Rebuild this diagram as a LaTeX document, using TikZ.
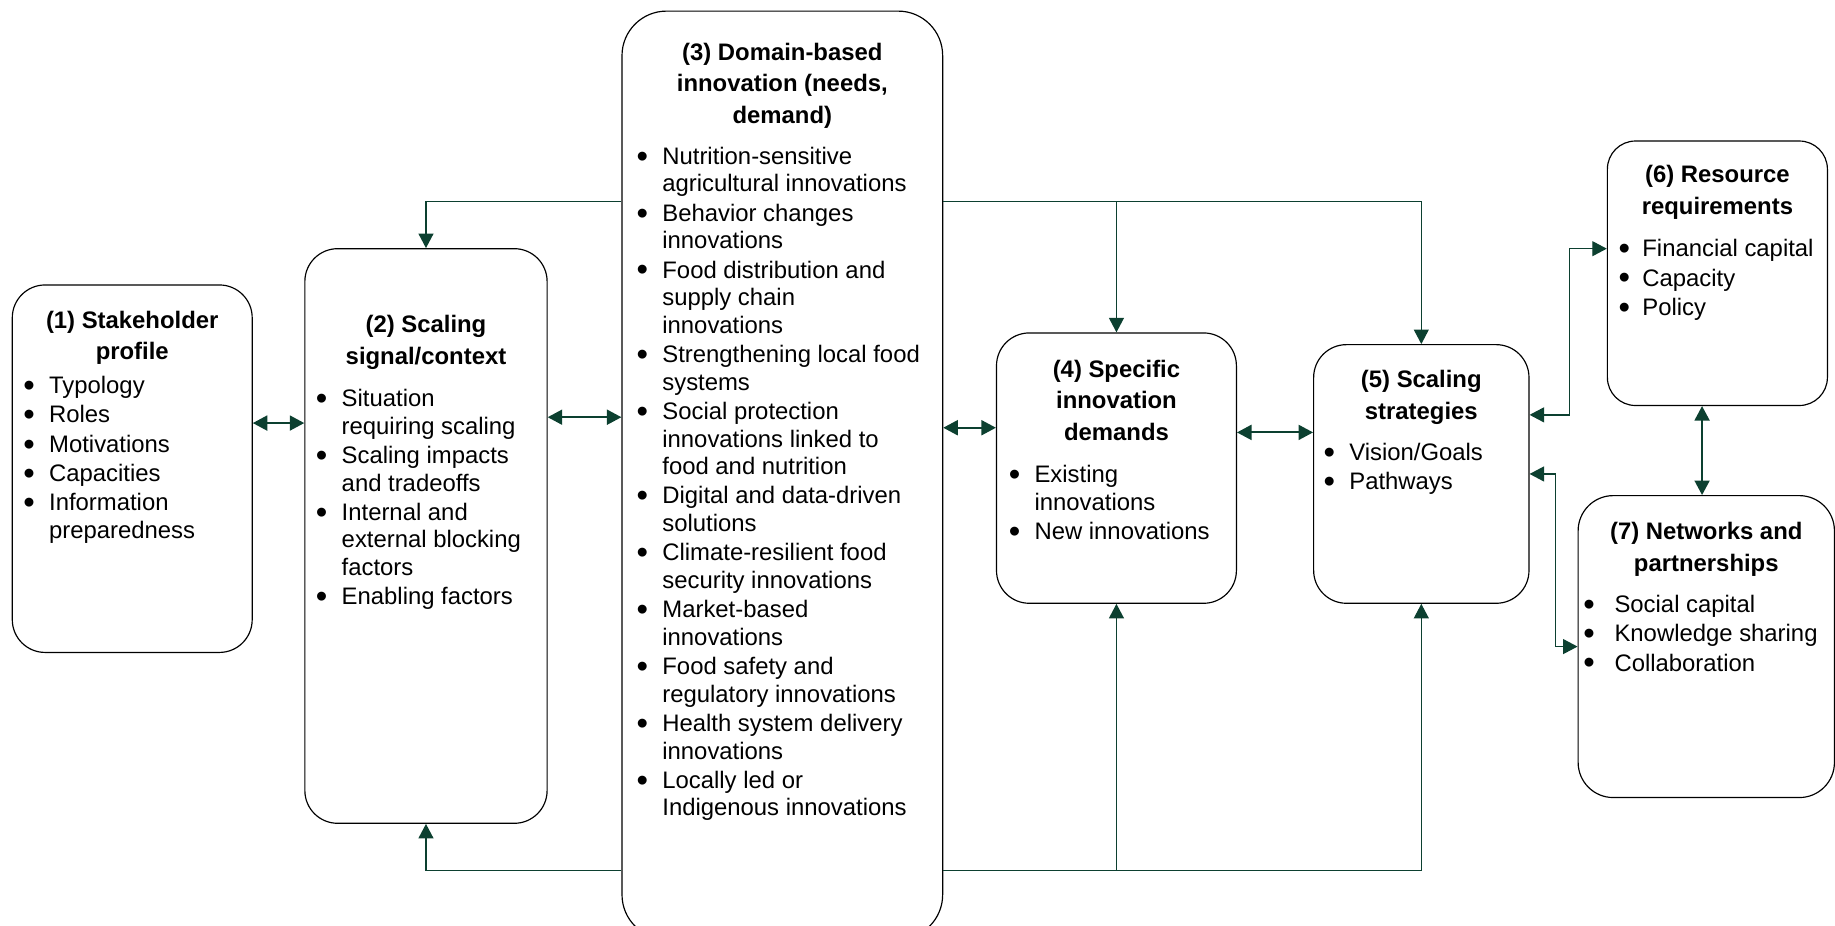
\documentclass[tikz,border=0pt]{standalone}
\usepackage{fontspec}
\setmainfont{Liberation Sans}
\usepackage{tikz}
\usetikzlibrary{arrows.meta, positioning, calc}
\definecolor{DeepGreen}{RGB}{12,64,48}
\newcommand{\bu}[1][10.3pt]{\makebox[#1][l]{\hspace{-0.7pt}\raisebox{-1.2pt}{\fontsize{14pt}{14pt}\selectfont\textbullet}}}
\newcommand{\cu}{\hspace*{10.3pt}}
\tikzset{
  panel/.style={rectangle, rounded corners=14pt, draw=black, line width=0.5pt,
    anchor=north west, inner sep=0pt},
  head/.style={align=center, inner sep=0pt,
    font=\bfseries\fontsize{10.2pt}{13.5pt}\selectfont},
  items/.style={align=left, inner sep=0pt,
    font=\fontsize{10.2pt}{11.8pt}\selectfont},
  oneway/.style={->, >={Triangle[length=6.2pt, width=6.4pt]}, line width=0.55pt, color=DeepGreen},
  twoway/.style={<->, >={Triangle[length=6.2pt, width=6.4pt]}, line width=0.85pt, color=DeepGreen},
  twowaythin/.style={<->, >={Triangle[length=6.2pt, width=6.4pt]}, line width=0.55pt, color=DeepGreen}
}
\begin{document}
\begin{tikzpicture}[x=0.5pt, y=-0.5pt]
  \useasboundingbox (0,0) rectangle (1568,791);

  % Boxes
  \node[panel, minimum width=102.5pt, minimum height=157pt]   (stake)    at (10,243)   {};
  \node[panel, minimum width=103.5pt, minimum height=245.5pt] (signal)   at (260,212)  {};
  \node[panel, minimum width=137pt, minimum height=396.5pt,
        rounded corners=19pt]                                 (domain)   at (531,9)    {};
  \node[panel, minimum width=102.5pt, minimum height=115.5pt] (specific) at (851,284)  {};
  \node[panel, minimum width=92pt, minimum height=110.5pt]    (strategy) at (1122,294) {};
  \node[panel, minimum width=94pt, minimum height=113pt,
        rounded corners=12pt]                                 (resource) at (1373,120) {};
  \node[panel, minimum width=109.5pt, minimum height=129pt,
        rounded corners=15pt]                                 (network)  at (1348,423) {};

  % Headings
  \node[head, below=9pt of stake.north]     (stakeT)    {\strut(1) Stakeholder\\profile};
  \node[head, below=26.5pt of signal.north] (signalT)   {\strut(2) Scaling\\signal/context};
  \node[head, below=11.5pt of domain.north] (domainT)   {\strut(3) Domain-based\\innovation (needs,\\demand)};
  \node[head, below=9.5pt of specific.north] (specificT) {\strut(4) Specific\\innovation\\demands};
  \node[head, below=9pt of strategy.north]  (strategyT) {\strut(5) Scaling\\strategies};
  \node[head, below=8.5pt of resource.north] (resourceT) {\strut(6) Resource\\requirements};
  \node[head, below=9.5pt of network.north] (networkT)  {\strut(7) Networks and\\partnerships};

  % Lists
  \node[items, below right=38.25pt and 5.5pt of stake.north west] (stakeL)
    {\strut\bu Typology\\[.7pt]\bu Roles\\[.7pt]\bu Motivations\\[.7pt]\bu Capacities\\[.7pt]
     \bu Information\\\cu preparedness};
  \node[items, below right=59.25pt and 5.5pt of signal.north west] (signalL)
    {\strut\bu Situation\\\cu requiring scaling\\[.7pt]\bu Scaling impacts\\\cu and tradeoffs\\[.7pt]
     \bu Internal and\\\cu external blocking\\\cu factors\\[.7pt]\bu Enabling factors};
  \node[items, below right=57.25pt and 7pt of domain.north west] (domainL)
    {\strut\bu Nutrition-sensitive\\\cu agricultural innovations\\[.7pt]
     \bu Behavior changes\\\cu innovations\\[.7pt]
     \bu Food distribution and\\\cu supply chain\\\cu innovations\\[.7pt]
     \bu Strengthening local food\\\cu systems\\[.7pt]
     \bu Social protection\\\cu innovations linked to\\\cu food and nutrition\\[.7pt]
     \bu Digital and data-driven\\\cu solutions\\[.7pt]
     \bu Climate-resilient food\\\cu security innovations\\[.7pt]
     \bu Market-based\\\cu innovations\\[.7pt]
     \bu Food safety and\\\cu regulatory innovations\\[.7pt]
     \bu Health system delivery\\\cu innovations\\[.7pt]
     \bu Locally led or\\\cu Indigenous innovations};
  \node[items, below right=55.75pt and 6pt of specific.north west] (specificL)
    {\strut\bu Existing\\\cu innovations\\[.7pt]\bu New innovations};
  \node[items, below right=41.25pt and 5pt of strategy.north west] (strategyL)
    {\strut\bu Vision/Goals\\[.7pt]\bu Pathways};
  \node[items, below right=41.25pt and 5.5pt of resource.north west] (resourceL)
    {\strut\bu[9.5pt]Financial capital\\[.7pt]\bu[9.5pt]Capacity\\[.7pt]\bu[9.5pt]Policy};
  \node[items, below right=41.75pt and 3pt of network.north west] (networkL)
    {\strut\bu[12.6pt]Social capital\\[.7pt]\bu[12.6pt]Knowledge sharing\\[.7pt]\bu[12.6pt]Collaboration};

  % Feed lines from (3)
  \coordinate (hiRow) at ([yshift=-81.5pt]domain.north);
  \coordinate (loRow) at ([yshift=-367.5pt]domain.north);
  \draw[oneway] (hiRow -| domain.west) -| (signal.north);
  \draw[oneway] (hiRow -| domain.east) -| (strategy.north);
  \draw[oneway] (hiRow -| specific.north) -- (specific.north);
  \draw[oneway] (loRow -| domain.west) -| (signal.south);
  \draw[oneway] (loRow -| domain.east) -| (strategy.south);
  \draw[oneway] (loRow -| specific.south) -- (specific.south);

  % Two-way links
  \coordinate (m12) at ([yshift=19.5pt]stake.east);
  \coordinate (m23) at ([yshift=50.75pt]signal.east);
  \coordinate (m34) at ([yshift=17.25pt]specific.west);
  \coordinate (m45) at ([yshift=17.75pt]strategy.west);
  \draw[twoway] (m12) -- (m12 -| signal.west);
  \draw[twoway] (m23) -- (m23 -| domain.west);
  \draw[twoway] (m34 -| domain.east) -- (m34);
  \draw[twoway] (m45 -| specific.east) -- (m45);

  % Resources and networks
  \draw[twowaythin] ([yshift=25.25pt]strategy.east) -- ++(17pt,0) |- ([yshift=10.5pt]resource.west);
  \draw[twowaythin] (strategy.east) -- ++(11pt,0) |- (network.west);
  \draw[twoway] ([xshift=-1.8pt]network.north |- resource.south) -- ([xshift=-1.8pt]network.north);

\end{tikzpicture}
\end{document}
